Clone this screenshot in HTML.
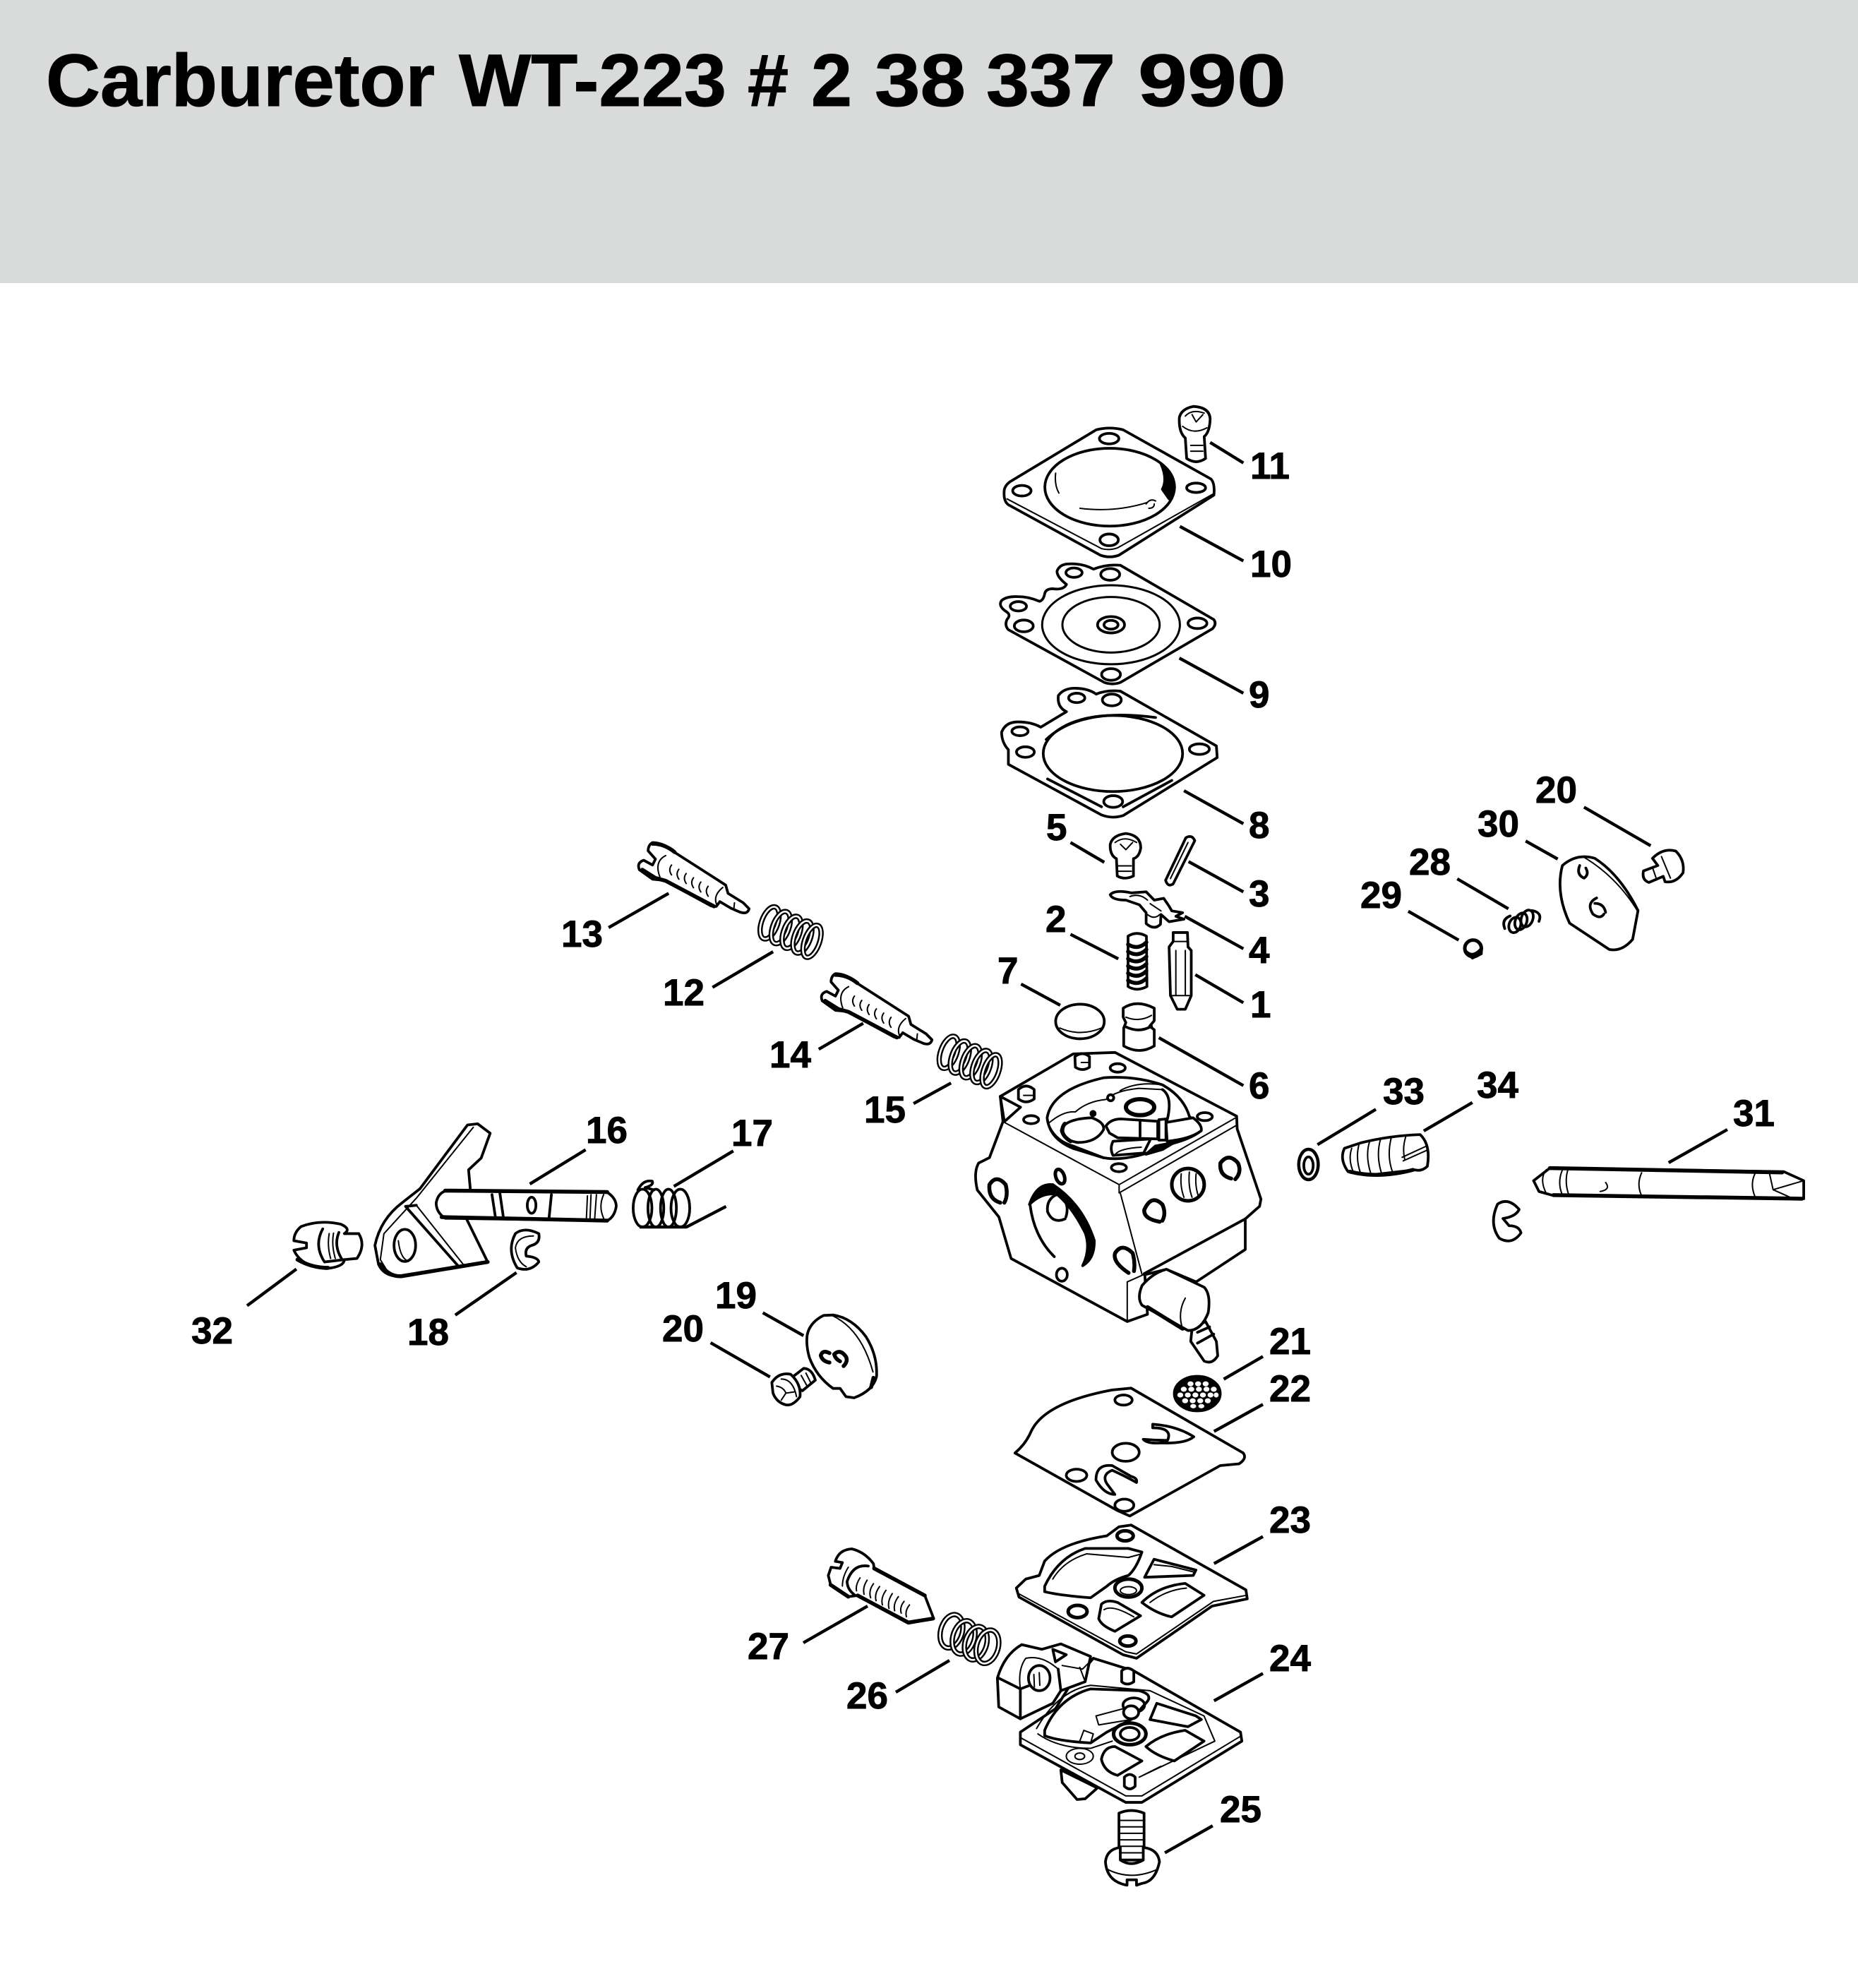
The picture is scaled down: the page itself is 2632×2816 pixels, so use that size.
<!DOCTYPE html>
<html><head><meta charset="utf-8"><style>
html,body{margin:0;padding:0;background:#fff}
svg{display:block}
svg *{vector-effect:non-scaling-stroke}
.p{stroke:#000;stroke-width:3.8;fill:#fff;stroke-linejoin:round;stroke-linecap:round}
.p .t{stroke-width:2;fill:none}
.p .n{fill:none}
.p .b{stroke-width:5.5;fill:none}
.p .k{fill:#000}
.p .l{stroke-width:4.4;fill:none;stroke-linecap:butt}
.p .c1{stroke-width:7.5;fill:none}
.p .c2{stroke:#fff;stroke-width:2.6;fill:none}
text{font-family:"Liberation Sans",Arial,sans-serif;font-weight:700;fill:#000}
.lb text{font-size:53px;stroke:#000;stroke-width:.9}
.ti text{font-size:105px;stroke:#000;stroke-width:1}
</style></head><body>
<svg xmlns="http://www.w3.org/2000/svg" width="2632" height="2816" viewBox="0 0 2632 2816">
<rect width="2632" height="2816" fill="#fff"/>
<rect width="2632" height="401" fill="#d9dbda"/>
<g class="ti">
<text x="65" y="150" textLength="551" lengthAdjust="spacingAndGlyphs">Carburetor</text>
<text x="650" y="150" textLength="379" lengthAdjust="spacingAndGlyphs">WT-223</text>
<text x="1059" y="150" textLength="58" lengthAdjust="spacingAndGlyphs">#</text>
<text x="1149" y="150" textLength="58" lengthAdjust="spacingAndGlyphs">2</text>
<text x="1239" y="150" textLength="129" lengthAdjust="spacingAndGlyphs">38</text>
<text x="1397" y="150" textLength="183" lengthAdjust="spacingAndGlyphs">337</text>
<text x="1612" y="150" textLength="210" lengthAdjust="spacingAndGlyphs">990</text>
</g>

<!-- A -->
<g class="p" transform="translate(1350,550) scale(.38265,.41454)">
<path d="M838,100 Q845,70 890,62 Q950,65 952,105 Q950,150 930,165 L935,240 Q900,262 865,240 L860,170 Q835,150 838,100Z"/>
<path class="t" d="M860,95 Q885,70 930,85 M885,90 L900,115 L925,90 M850,130 Q890,160 940,135 M880,195 L925,195 M880,215 L925,215"/>
<path d="M530,142 Q580,130 630,142 L955,310 Q970,325 966,365 L615,570 Q580,582 545,570 L205,398 Q185,385 190,345 Q195,330 210,320Z"/>
<path class="t" d="M200,378 L550,548 Q580,555 610,545 L965,360"/>
<ellipse cx="578" cy="172" rx="36" ry="18"/><ellipse cx="255" cy="350" rx="34" ry="18"/><ellipse cx="900" cy="340" rx="35" ry="16"/><ellipse cx="578" cy="518" rx="34" ry="20"/>
<ellipse cx="580" cy="338" rx="240" ry="133"/>
<path class="k" d="M770,258 Q820,290 820,340 Q815,370 800,378 L775,345 Q795,310 770,258Z"/>
<path class="t" d="M380,290 Q375,330 392,358 M470,410 Q600,425 720,390 M715,395 Q730,375 750,385 M725,410 Q745,410 745,395"/>
<path d="M620,605 L965,790 Q978,805 960,822 L620,1005 Q590,1015 560,1005 L205,825 Q190,810 200,790 Q215,775 200,765 Q165,745 180,725 Q200,710 240,712 Q280,712 320,728 Q335,725 340,700 Q345,685 370,685 Q410,690 420,670 Q385,645 385,625 Q395,600 430,600 Q480,598 520,618 Q570,600 620,605Z"/>
<ellipse cx="448" cy="630" rx="30" ry="16"/><ellipse cx="582" cy="636" rx="35" ry="20"/><ellipse cx="242" cy="745" rx="30" ry="16"/><ellipse cx="262" cy="812" rx="35" ry="20"/><ellipse cx="905" cy="803" rx="35" ry="18"/><ellipse cx="585" cy="978" rx="35" ry="20"/>
<ellipse cx="585" cy="808" rx="255" ry="135" style="stroke-width:3"/><ellipse cx="585" cy="808" rx="180" ry="95" style="stroke-width:3"/><ellipse cx="585" cy="808" rx="50" ry="28"/><ellipse cx="585" cy="808" rx="26" ry="15"/>
<path d="M620,1035 L975,1222 L978,1262 L630,1460 Q590,1472 550,1458 L205,1285 L205,1235 Q180,1210 180,1175 Q195,1140 240,1140 Q290,1140 325,1158 L420,1105 Q385,1090 390,1050 Q410,1025 450,1025 Q500,1025 530,1045 Q570,1030 620,1035Z"/>
<ellipse cx="458" cy="1058" rx="30" ry="16"/><ellipse cx="588" cy="1065" rx="35" ry="20"/><ellipse cx="248" cy="1172" rx="30" ry="15"/><ellipse cx="268" cy="1243" rx="33" ry="18"/><ellipse cx="912" cy="1233" rx="37" ry="18"/><ellipse cx="593" cy="1412" rx="35" ry="20"/>
<ellipse cx="592" cy="1248" rx="258" ry="130"/>
<path class="n" d="M345,1200 Q470,1090 750,1125"/>
<path class="n" d="M350,1335 L550,1430 M810,1340 L630,1430"/>
<path class="l" d="M952,185 L1075,255 M840,472 L1075,590 M838,922 L1075,1042 M855,1375 L1075,1488"/>
</g>

<!-- B -->
<g class="p" transform="translate(1350,1150) scale(.38265,.5102)">
<!-- bolt 5 -->
<path d="M582,90 Q590,65 640,60 Q695,65 695,100 Q690,125 668,130 L668,178 Q635,190 608,178 L605,130 Q580,120 582,90Z"/>
<path class="t" d="M600,85 Q635,65 680,85 M620,90 L640,105 L665,85 M612,150 L660,150 M612,165 L660,165"/>
<!-- pin 3 -->
<path d="M862,72 Q885,62 895,80 L815,200 Q795,210 787,190Z"/>
<path class="t" d="M870,85 L805,185"/>
<!-- lever 4 -->
<path d="M850,280 L810,275 L800,262 L780,240 L745,245 L715,222 L660,225 Q600,215 582,230 Q590,245 640,245 L690,258 L715,280 L715,310 Q745,330 768,312 L770,285 L800,305 L855,298 L825,290Z"/>
<path class="t" d="M655,235 Q690,225 720,245 M720,285 Q745,300 765,285 M730,255 L770,275"/>
<!-- spring 2 -->
<path d="M648,345 Q680,330 716,345 L718,485 Q680,500 648,485Z"/>
<path class="b" d="M648,368 Q685,385 716,362 M648,388 Q685,405 716,382 M648,408 Q685,425 716,402 M648,428 Q685,445 716,422 M648,448 Q685,465 716,442 M648,468 Q685,485 716,462"/>
<!-- pin 1 -->
<path d="M815,335 L868,335 L870,375 L882,385 L882,510 L860,548 L830,548 L805,510 L800,375 L815,360Z"/>
<path class="t" d="M815,360 L870,360 M825,385 L825,510 M860,385 L860,510 M805,510 L880,510"/>
<!-- 7 -->
<ellipse cx="470" cy="582" rx="90" ry="48"/>
<path class="t" d="M395,600 Q470,625 550,600"/>
<!-- 6 -->
<path d="M630,545 Q680,520 745,545 L745,580 L728,595 L745,605 L745,650 Q690,675 632,650 L632,600 L640,585 L630,570Z"/>
<path class="t" d="M640,570 Q690,585 735,565"/>
<path class="n" d="M640,597 Q690,615 735,595"/>
<!-- body -->
<path d="M175,790 L445,672 L600,668 L1050,845 L1052,880 L1140,1075 L1135,1095 L1082,1130 L1082,1215 L900,1305 L790,1270 L710,1285 L720,1395 L645,1415 L215,1240 L170,1125 L90,1050 Q75,1000 95,975 L135,960 L185,860Z"/>
<path class="t" d="M185,860 L615,1035 L1045,850 M615,1058 L1050,870 M615,1035 L615,1058 M620,1060 L700,1285 M645,1305 L645,1415 M645,1305 L705,1285"/>
<path class="n" d="M175,790 L250,820 L190,860 Z"/>
<path class="n" d="M1082,1130 L708,1282"/>
<!-- left face -->
<path class="k" d="M283,1090 Q310,1030 370,1035 Q480,1090 523,1190 Q525,1240 480,1260 Q510,1215 490,1170 Q440,1095 385,1062 Q330,1055 283,1090Z"/>
<path class="n" d="M285,1090 Q300,1180 375,1235"/>
<ellipse cx="403" cy="1285" rx="20" ry="18"/>
<path class="b" d="M175,1085 Q130,1075 135,1035 Q160,1005 195,1035 Q205,1065 190,1085"/>
<path class="n" d="M385,1062 Q345,1075 350,1110 Q370,1145 415,1130 M410,1075 Q430,1095 418,1125"/>
<!-- right face holes -->
<path class="b" d="M1030,1018 Q985,1010 990,975 Q1020,945 1055,975 Q1070,1000 1045,1020"/>
<ellipse cx="870" cy="1035" rx="60" ry="45" stroke-width="5"/>
<path class="t" d="M845,1005 Q840,1040 855,1070 M875,1000 Q870,1040 885,1070 M900,1005 Q895,1040 910,1070"/>
<path class="b" d="M765,1138 Q705,1130 708,1105 Q735,1060 775,1090 Q790,1115 775,1135"/>
<path class="b" d="M650,1280 Q590,1250 600,1225 Q625,1195 665,1225 Q675,1250 670,1275"/>
<!-- nipple + tube -->
<path d="M885,1435 L935,1415 L975,1470 L980,1510 Q960,1535 930,1525 L880,1470Z"/>
<path class="n" d="M905,1445 L950,1430 M905,1475 L965,1450"/>
<path d="M790,1270 L930,1320 Q955,1340 945,1390 Q920,1440 870,1440 L700,1370 Q680,1350 700,1315 Q740,1280 790,1270Z"/>
<path class="t" d="M860,1350 Q830,1390 850,1435"/>
<path class="b" d="M720,1375 L850,1435"/>
<path class="l" d="M435,85 L560,140 M872,138 L1075,222 M858,290 L1075,380 M435,340 L612,408 M897,452 L1075,530 M252,478 L397,537 M762,627 L1075,760"/>
</g>

<!-- body top recess, direct trace -->
<g class="p" transform="translate(1440,1480) scale(.33333)">
<path d="M130,310 Q150,190 370,140 Q500,130 620,170 Q710,220 735,305 L780,340 L785,365 Q740,400 660,420 Q480,500 370,480 L240,440 Q140,400 130,310Z"/>
<path class="t" d="M140,330 Q200,280 250,285 Q300,240 380,232 Q420,195 520,185 L620,190 M440,195 Q510,155 620,170"/>
<path class="n" d="M620,190 Q665,220 640,320 M140,350 Q170,410 240,430 L370,480"/>
<circle cx="400" cy="225" r="13"/><circle cx="325" cy="292" r="9" class="k"/>
<ellipse cx="525" cy="265" rx="60" ry="34" style="stroke-width:6"/>
<path d="M190,365 Q200,315 320,310 Q375,330 370,360 Q340,415 260,415 Q200,405 190,365Z"/>
<path class="b" d="M205,335 Q175,375 230,410"/>
<path d="M380,345 Q400,315 445,315 L520,320 L600,325 L600,400 L430,395 L395,375Z"/>
<path class="n" d="M525,320 L525,388"/>
<path d="M635,330 L750,310 Q790,340 785,365 Q740,400 640,410Z"/>
<path d="M605,318 L635,315 L635,405 L605,405Z"/>
<path d="M410,410 L570,400 L540,460 L410,470 Q395,440 410,410Z"/>
<path class="t" d="M420,465 Q440,440 530,435"/>
<path class="k" d="M550,465 L590,430 L670,415 L620,445Z"/>
<ellipse cx="430" cy="98" rx="32" ry="18"/><ellipse cx="62" cy="318" rx="32" ry="17"/><ellipse cx="800" cy="305" rx="32" ry="17"/><ellipse cx="435" cy="522" rx="32" ry="17"/>
<path d="M248,50 Q280,25 310,50 L310,95 Q280,115 250,95Z"/>
<path d="M8,190 Q40,160 75,190 L75,230 Q40,255 8,230Z"/>
<path class="t" d="M275,75 L305,75 M30,215 L70,215"/>
<ellipse cx="185" cy="560" rx="18" ry="32" transform="rotate(-20 185 560)" style="stroke-width:5"/>
</g>

<!-- C -->
<g class="p" transform="translate(1300,1900) scale(.38265,.5102)">
<ellipse cx="1035" cy="145" rx="85" ry="48" class="k"/>
<g style="stroke:none;fill:#fff">
<ellipse cx="1010" cy="118" rx="11" ry="7"/><ellipse cx="1038" cy="118" rx="11" ry="7"/><ellipse cx="1066" cy="118" rx="11" ry="7"/><ellipse cx="985" cy="133" rx="11" ry="7"/><ellipse cx="1013" cy="133" rx="11" ry="7"/><ellipse cx="1041" cy="133" rx="11" ry="7"/><ellipse cx="1069" cy="133" rx="11" ry="7"/><ellipse cx="1096" cy="133" rx="11" ry="7"/><ellipse cx="972" cy="149" rx="11" ry="7"/><ellipse cx="1000" cy="149" rx="11" ry="7"/><ellipse cx="1028" cy="149" rx="11" ry="7"/><ellipse cx="1056" cy="149" rx="11" ry="7"/><ellipse cx="1084" cy="149" rx="11" ry="7"/><ellipse cx="1105" cy="149" rx="9" ry="7"/><ellipse cx="990" cy="165" rx="11" ry="7"/><ellipse cx="1018" cy="165" rx="11" ry="7"/><ellipse cx="1046" cy="165" rx="11" ry="7"/><ellipse cx="1074" cy="165" rx="11" ry="7"/><ellipse cx="1020" cy="180" rx="11" ry="6"/><ellipse cx="1050" cy="180" rx="11" ry="6"/>
</g>
<!-- 22 -->
<path d="M360,310 Q400,285 420,250 Q470,170 720,135 L790,130 L1205,310 Q1220,325 1190,340 L1120,345 L785,485 L740,470Z"/>
<ellipse cx="762" cy="163" rx="32" ry="14"/><ellipse cx="770" cy="308" rx="50" ry="25"/><ellipse cx="588" cy="372" rx="38" ry="17"/><ellipse cx="765" cy="455" rx="35" ry="17"/>
<path d="M870,230 Q960,235 1022,265 Q990,285 900,282 Q850,285 835,272 Q880,275 925,275 Q945,240 870,240Z"/>
<path d="M720,345 Q660,340 660,385 Q690,425 730,425 L700,395 Q680,370 720,358 Q770,375 810,392 Q815,380 790,375Z"/>
<!-- 24 nub -->
<path d="M530,1190 L535,1225 L590,1272 L620,1270 L665,1240Z"/>
<!-- 23 -->
<path d="M745,515 L790,510 L1215,690 L1220,715 L1090,735 L810,880 L760,870 L375,710 L365,685 L400,660 L450,650 L470,610 Q530,560 700,540Z"/>
<path class="t" d="M372,700 L770,862 L810,868 L1095,722 L1218,705"/>
<path d="M470,680 Q520,600 620,575 L780,575 L830,585 Q810,630 780,650 Q730,660 700,680 L640,712 Q520,705 470,695Z"/>
<path class="t" d="M500,660 Q540,610 625,590 L780,600 L830,590"/>
<path d="M875,605 L1030,635 L1020,650 L840,655Z"/>
<path class="t" d="M875,620 L940,625 L1020,640"/>
<path d="M830,725 Q890,680 990,672 L1060,705 L940,765 Q880,755 830,725Z"/>
<path class="t" d="M860,725 Q920,690 995,685"/>
<path d="M680,730 Q700,715 740,725 L825,762 L730,805 Q680,790 670,770Z"/>
<path class="t" d="M690,745 Q720,730 800,765"/>
<ellipse cx="780" cy="685" rx="50" ry="25" stroke-width="5"/><ellipse cx="780" cy="692" rx="30" ry="11" class="t"/>
<ellipse cx="768" cy="540" rx="30" ry="14" stroke-width="5"/><ellipse cx="592" cy="750" rx="35" ry="17" stroke-width="5"/><ellipse cx="778" cy="832" rx="30" ry="14" stroke-width="5"/>
<!-- 24 -->
<path d="M380,1085 L510,1020 L560,960 L650,880 L800,915 L1195,1085 L1200,1110 L830,1280 L770,1280 L380,1120Z"/>
<path class="t" d="M380,1100 L770,1262 L830,1262 L1198,1095"/>
<path class="n" d="M470,1080 Q520,990 640,965 L820,970 Q870,980 850,1000 L790,1050 L700,1085 L640,1115 Q520,1110 470,1095Z"/>
<path class="t" d="M440,1075 Q520,970 640,955 L860,970 L1060,1040 L1100,1110 M445,1090 Q520,1130 640,1130 L720,1110 M660,1040 L760,1020 L790,1050 L670,1065Z M600,1110 L615,1080 L650,1090 L640,1115 M900,1180 L820,1210 L1100,1110"/>
<path class="n" d="M860,1050 L885,1005 L1030,1040 L1050,1050 L1000,1070Z"/>
<path class="n" d="M845,1125 Q900,1090 990,1080 L1060,1110 L950,1165 Q880,1150 845,1125Z"/>
<path class="n" d="M680,1160 Q690,1125 730,1125 L830,1165 L740,1205 Q690,1195 680,1160Z"/>
<ellipse cx="785" cy="1090" rx="60" ry="30" stroke-width="5"/><ellipse cx="785" cy="1090" rx="35" ry="18"/>
<ellipse cx="600" cy="1152" rx="50" ry="22" class="t"/><ellipse cx="600" cy="1152" rx="18" ry="9" class="t"/>
<ellipse cx="800" cy="1010" rx="40" ry="20" class="n"/><ellipse cx="790" cy="1030" rx="28" ry="18"/>
<path d="M755,915 Q775,900 800,915 L800,945 Q775,958 755,945Z"/>
<path d="M765,1210 Q785,1195 805,1210 L805,1235 Q785,1250 765,1235Z"/>
<!-- bracket -->
<path d="M295,935 Q320,870 385,842 L460,855 L530,840 L640,875 L620,945 L530,970 L500,1005 L380,1048 L300,1015Z"/>
<path class="n" d="M300,935 L380,965 L415,955 M380,965 L380,1048 M520,910 L530,970"/>
<path class="t" d="M380,965 Q370,910 400,880 Q460,870 520,910 M535,900 L610,910 L650,880 M620,945 L600,905"/>
<ellipse cx="450" cy="935" rx="40" ry="35"/><path class="t" d="M430,925 L432,960 M450,920 L452,955"/>
<path d="M500,855 L550,870 L510,890Z"/>
<!-- spring 26 -->
<ellipse class="c1" cx="125" cy="805" rx="38" ry="50" transform="rotate(35 125 805)"/>
<ellipse class="c2" cx="125" cy="805" rx="38" ry="50" transform="rotate(35 125 805)"/>
<ellipse class="c1" cx="170" cy="822" rx="38" ry="50" transform="rotate(35 170 822)"/>
<ellipse class="c2" cx="170" cy="822" rx="38" ry="50" transform="rotate(35 170 822)"/>
<ellipse class="c1" cx="215" cy="838" rx="38" ry="50" transform="rotate(35 215 838)"/>
<ellipse class="c2" cx="215" cy="838" rx="38" ry="50" transform="rotate(35 215 838)"/>
<ellipse class="c1" cx="258" cy="848" rx="38" ry="50" transform="rotate(35 258 848)"/>
<ellipse class="c2" cx="258" cy="848" rx="38" ry="50" transform="rotate(35 258 848)"/>
<!-- 25 -->
<path d="M745,1310 Q790,1295 838,1310 L838,1440 L745,1440Z"/>
<path d="M695,1445 Q700,1410 750,1405 L750,1440 Q790,1460 835,1440 L835,1405 Q890,1410 895,1445 Q880,1500 830,1505 L810,1510 L810,1495 L775,1495 L775,1510 Q700,1500 695,1445Z"/>
<path class="t" d="M747,1330 L836,1330 M747,1348 L836,1348 M747,1366 L836,1366 M747,1384 L836,1384 M747,1402 L836,1402 M747,1420 L836,1420 M700,1465 Q790,1500 890,1465"/>
<path class="l" d="M1133,105 L1278,42 M1097,250 L1278,175 M1097,617 L1278,542 M1097,998 L1278,922 M915,1420 L1092,1345"/>
</g>

<!-- D -->
<g class="p" transform="translate(350,1550) scale(.5102,.3346)">
<!-- 32 -->
<path d="M150,560 Q200,530 260,550 Q290,570 270,590 L310,590 Q330,640 305,695 L270,700 Q270,730 220,738 Q150,730 130,660 L165,650 L165,630 L130,620 Q130,585 150,560Z"/>
<path class="n" d="M210,570 Q185,640 215,710 L270,700 M255,585 Q240,640 262,695"/>
<path class="t" d="M228,590 Q222,640 232,695 M240,588 Q234,640 245,695"/>
<path class="b" d="M140,700 Q180,735 225,735"/>
<!-- lever -->
<path d="M612,130 L640,125 L675,165 L650,270 L615,320 L620,405 L610,530 L668,710 L420,770 Q380,770 365,720 L355,640 Q370,530 430,460 L480,400Z"/>
<path class="t" d="M628,140 L470,440 L380,590 L370,700 L390,750 M470,470 L600,720"/>
<path class="n" d="M440,475 L585,725 M440,475 L470,470"/>
<ellipse cx="438" cy="640" rx="30" ry="68"/>
<path class="t" d="M420,620 Q425,690 445,705"/>
<path class="b" d="M370,720 Q395,775 430,770 L668,710"/>
<!-- shaft -->
<path d="M550,410 L1000,415 Q1025,440 1025,475 Q1020,520 1000,535 L550,525 Q525,500 525,460 Q530,420 550,410Z"/>
<path class="b" d="M540,520 L1000,535 M550,408 L1000,414"/>
<path class="n" d="M680,425 L690,525 M702,420 L712,525 M845,425 L838,530"/>
<ellipse cx="790" cy="470" rx="12" ry="34"/>
<path class="t" d="M945,430 L942,530 M955,425 L952,530 M970,425 L965,530 M990,425 Q975,475 990,525"/>
<!-- spring 17 -->
<path class="n" d="M1085,405 Q1100,360 1125,368 Q1130,385 1105,395 L1130,405"/>
<ellipse cx="1098" cy="482" rx="26" ry="80" class="n"/><ellipse cx="1135" cy="482" rx="22" ry="80" class="n"/><ellipse cx="1170" cy="482" rx="22" ry="80" class="n"/><ellipse cx="1203" cy="482" rx="26" ry="80" class="n"/>
<path class="l" d="M1090,562 L1220,562 L1330,475"/>
<!-- clip 18 -->
<path d="M810,590 Q770,560 745,590 Q720,660 750,735 Q785,755 810,710 Q808,690 775,685 Q770,650 790,640 Q815,630 810,590Z"/>
<path class="t" d="M795,600 Q750,600 745,650 Q750,710 775,730"/>
<path class="l" d="M785,380 L940,235 M1185,390 L1350,240 M578,935 L748,755 M0,895 L137,740 M1432,925 L1545,1022 M1287,1052 L1452,1197"/>
</g>

<!-- E -->
<g class="p" transform="translate(800,1150) scale(.41454,.3346)">
<g id="s13">
<path d="M300,130 Q340,130 380,175 L550,310 L558,345 L610,385 L630,410 Q625,435 600,425 L568,408 L530,380 L518,400 L500,398 L340,290 L300,285 L255,245 Q245,215 270,205 L300,225 L310,200 L285,165 Q285,140 300,130Z"/>
<path class="t" d="M345,185 Q305,210 325,275 M365,225 q-12,20 0,42 m25,-24 q-12,20 0,42 m25,-24 q-12,20 0,42 m25,-24 q-12,20 0,42 m25,-24 q-12,20 0,42 m25,-24 q-12,20 0,42 M540,320 Q505,355 520,395 M580,385 L578,410"/>
<path class="b" d="M265,245 L310,280 L345,292 L510,400 M300,135 Q340,135 375,170"/>
</g>
<use href="#s13" x="625" y="555"/>
<g id="sp">
<ellipse class="c1" cx="700" cy="470" rx="28" ry="70" transform="rotate(15 700 470)"/><ellipse class="c2" cx="700" cy="470" rx="28" ry="70" transform="rotate(15 700 470)"/>
<ellipse class="c1" cx="738" cy="490" rx="28" ry="70" transform="rotate(15 738 490)"/><ellipse class="c2" cx="738" cy="490" rx="28" ry="70" transform="rotate(15 738 490)"/>
<ellipse class="c1" cx="775" cy="510" rx="28" ry="70" transform="rotate(15 775 510)"/><ellipse class="c2" cx="775" cy="510" rx="28" ry="70" transform="rotate(15 775 510)"/>
<ellipse class="c1" cx="812" cy="530" rx="28" ry="70" transform="rotate(15 812 530)"/><ellipse class="c2" cx="812" cy="530" rx="28" ry="70" transform="rotate(15 812 530)"/>
<ellipse class="c1" cx="845" cy="548" rx="26" ry="70" transform="rotate(15 845 548)"/><ellipse class="c2" cx="845" cy="548" rx="26" ry="70" transform="rotate(15 845 548)"/>
</g>
<use href="#sp" x="612" y="548"/>
<path class="l" d="M150,490 L355,345 M505,743 L712,592 M868,1005 L1020,895 M1192,1235 L1320,1148"/>
</g>

<!-- F -->
<g class="p" transform="translate(1800,1050) scale(.5102)">
<path d="M810,345 Q850,310 900,325 Q970,370 1020,470 L1005,550 Q975,585 940,578 L830,505 Q790,420 810,345Z"/>
<path class="t" d="M870,322 Q950,370 1005,450 L1018,470"/>
<path class="n" d="M858,345 Q848,370 870,380 Q885,370 875,352 M905,435 Q875,450 895,480 Q915,495 925,480 M900,450 Q925,450 930,475"/>
<path d="M1060,325 Q1090,295 1125,305 Q1150,330 1145,365 Q1125,395 1095,390 L1090,375 L1050,392 Q1030,385 1035,360 L1075,345Z"/>
<path class="t" d="M1085,320 L1110,380 M1060,350 L1072,385"/>
<!-- spring 28 with hooks -->
<path class="n" d="M665,485 Q640,495 650,520 M725,470 Q755,475 745,500"/>
<ellipse cx="678" cy="510" rx="16" ry="22" class="n" transform="rotate(20 678 510)"/><ellipse cx="695" cy="500" rx="16" ry="24" class="n" transform="rotate(20 695 500)"/><ellipse cx="712" cy="492" rx="16" ry="24" class="n" transform="rotate(20 712 492)"/>
<circle cx="562" cy="575" r="23" stroke-width="5"/>
<path class="k" d="M540,580 Q560,605 585,575 L585,590 L560,602Z"/>
<ellipse cx="105" cy="1175" rx="27" ry="42" stroke-width="4.5"/><ellipse cx="105" cy="1178" rx="13" ry="24"/>
<path d="M205,1130 L250,1115 Q330,1095 415,1092 Q445,1120 435,1180 Q420,1195 400,1190 L270,1205 L215,1195 Q190,1160 205,1130Z"/>
<path class="t" d="M225,1130 Q215,1160 228,1192 M245,1120 Q235,1160 250,1200 M275,1110 Q262,1150 278,1200 M305,1105 Q292,1150 308,1200 M335,1100 Q322,1150 338,1195 M365,1155 L430,1125 M368,1165 L435,1135 M375,1098 Q365,1130 372,1160"/>
<path class="b" d="M220,1195 Q300,1215 395,1190"/>
<path d="M730,1220 L775,1185 L1425,1195 L1480,1220 L1480,1270 L780,1260 L745,1250Z"/>
<path class="b" d="M775,1185 L1420,1197 M785,1260 L1475,1270"/>
<path class="t" d="M765,1190 Q745,1215 765,1255 M810,1190 Q795,1225 810,1260 M825,1190 Q815,1225 828,1260 M1030,1198 Q1015,1230 1030,1262 M1345,1200 Q1330,1230 1345,1265 M1385,1200 L1395,1245 L1480,1220 M1395,1245 L1440,1265 M915,1250 Q945,1245 930,1225"/>
<path d="M690,1300 Q660,1265 630,1285 Q605,1340 635,1380 Q670,1400 695,1365 Q690,1345 662,1345 L645,1325 Q680,1320 690,1300Z"/>
<path class="l" d="M870,183 L1055,290 M708,277 L797,327 M518,382 L660,465 M382,472 L522,552 M130,1120 L292,1022 M425,1082 L560,1003 M1105,1170 L1268,1078"/>
</g>

<!-- disc 19 + screw 20 -->
<g class="p" transform="translate(1080,1850) scale(.33333)">
<path d="M190,125 Q200,70 260,40 L300,38 Q380,50 440,130 Q490,210 485,300 Q470,360 390,390 L355,385 L330,350 L300,350 Q230,300 200,220 Q185,170 190,125Z"/>
<path class="t" d="M300,42 Q420,100 470,280"/>
<path class="b" d="M472,305 L462,345"/>
<path class="b" d="M285,240 Q255,235 248,210 Q255,185 285,200 M345,255 Q365,235 355,215 Q330,180 305,205 Q310,225 330,235"/>
<path d="M130,300 L175,265 Q210,265 225,315 L170,360 L135,340Z"/>
<path class="t" d="M165,295 L190,340 M185,285 L205,325"/>
<path d="M40,325 Q70,280 120,290 Q165,330 160,385 Q130,425 100,420 Q60,410 45,370Z"/>
<path class="t" d="M60,340 Q90,345 100,370 L80,400 M100,370 L135,365 M80,310 Q130,310 145,385"/>
</g>

<!-- screw 27 -->
<g class="p" transform="translate(1150,2170) scale(.33333)">
<path d="M100,125 Q115,75 170,72 Q225,85 262,135 L265,155 L480,270 L518,368 L410,388 L195,270 L155,275 L80,225 L70,185 L82,150 L120,155 L130,130Z"/>
<path class="n" d="M240,145 Q175,135 150,210 Q150,245 185,270"/>
<path class="t" d="M155,150 Q130,190 130,230 M205,195 Q185,225 190,250 M235,205 Q215,235 222,265 M262,220 Q240,250 250,280 M288,232 Q265,262 273,292 M315,248 Q292,280 300,310 M342,262 Q320,295 328,325 M368,275 Q345,305 352,335 M392,295 Q372,320 380,345 M415,310 Q395,335 402,360"/>
<path class="b" d="M80,225 L155,275 M195,270 L410,385 L515,368 M265,155 L480,270"/>
</g>

<g class="p"><path class="l" d="M1229,2275 L1138,2327 M1345,2352 L1269,2397"/></g>

<g class="lb">
<text x="1771" y="678">11</text><text x="1771" y="817">10</text><text x="1769" y="1002">9</text><text x="1769" y="1187">8</text>
<text x="1482" y="1190">5</text><text x="1769" y="1284">3</text><text x="1769" y="1364">4</text><text x="1481" y="1320">2</text><text x="1771" y="1441">1</text><text x="1413" y="1393">7</text><text x="1769" y="1556">6</text>
<text x="1798" y="1918">21</text><text x="1798" y="1985">22</text><text x="1798" y="2171">23</text><text x="1798" y="2367">24</text><text x="1728" y="2581">25</text>
<text x="830" y="1619">16</text><text x="1036" y="1623">17</text><text x="577" y="1905">18</text><text x="1013" y="1853">19</text><text x="938" y="1900">20</text>
<text x="795" y="1341">13</text><text x="939" y="1424">12</text><text x="1090" y="1512">14</text><text x="1224" y="1590">15</text>
<text x="2175" y="1137">20</text><text x="2093" y="1185">30</text><text x="1996" y="1239">28</text><text x="1927" y="1286">29</text><text x="1959" y="1564">33</text><text x="2092" y="1555">34</text><text x="2455" y="1595">31</text>
<text x="271" y="1903">32</text><text x="1199" y="2420">26</text><text x="1059" y="2350">27</text>
</g>
</svg>
</body></html>
